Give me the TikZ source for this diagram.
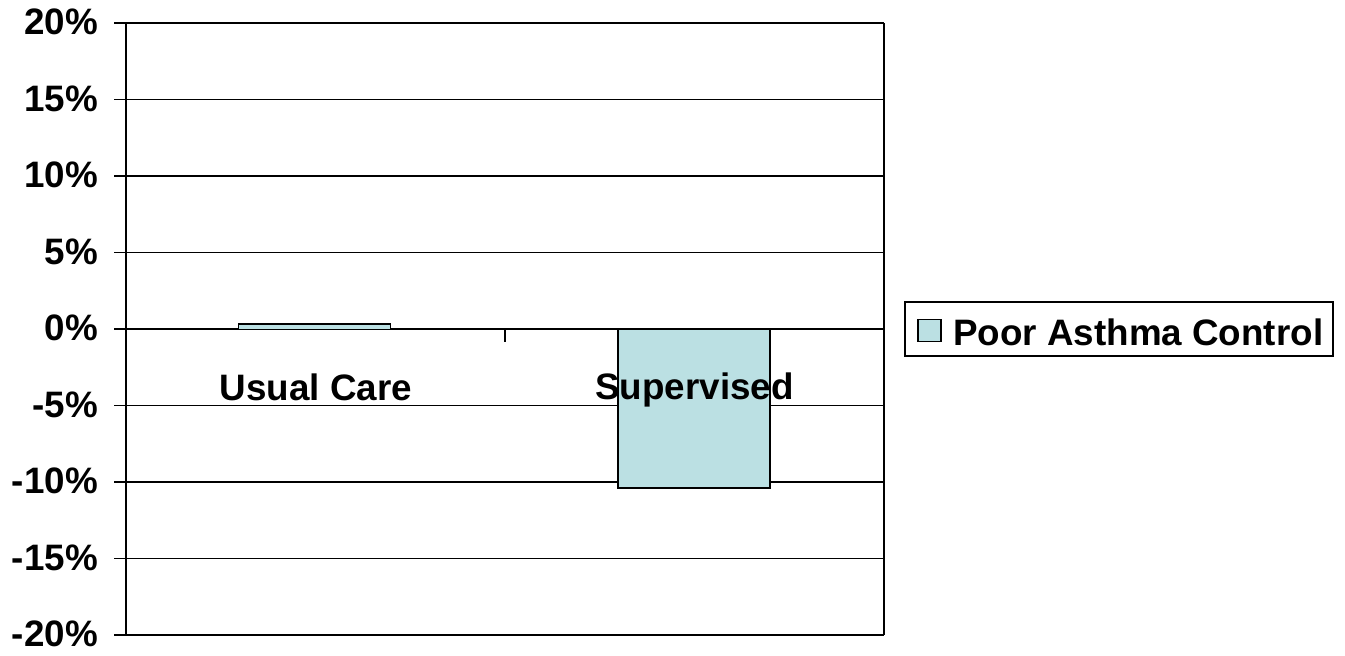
\documentclass[tikz,border=0pt]{standalone}
\usepackage{fontspec}
\setmainfont{Liberation Sans}
\begin{document}
\begin{tikzpicture}[x=1pt,y=-1pt,
  grid/.style={line width=1.9pt,black},
  bar/.style={draw=black,line width=1.9pt,fill=barcol},
  bigtext/.style={font=\fontsize{36.8}{44}\selectfont\bfseries,inner sep=0pt},
  ticklab/.style={bigtext,anchor=base east},
  catlab/.style={bigtext,anchor=base},
]
\definecolor{barcol}{HTML}{BBE0E3}
\useasboundingbox (0,0) rectangle (1345,656);
% grid lines and labels
\foreach \v [count=\i from 0] in {20,15,10,5,0,-5,-10,-15,-20}{
  \pgfmathsetmacro{\yy}{23+76.5*\i}
  \draw[grid] (114,\yy) -- (884,\yy);
  \node[ticklab] (t\i) at (98,\yy+11.5) {\v\%};
}
% axes frame
\draw[grid] (126,23) -- (126,635);
\draw[grid] (884,23) -- (884,635);
% category tick
\coordinate (tk1) at (505,329.5);
\coordinate (tk2) at (505,342);
\draw[grid] (tk1) -- (tk2);
% bars
\draw[bar] (238.5,324) rectangle (390.5,329.5);
\draw[bar] (618,329.5) rectangle (770,488);
% category labels
\node[catlab] (c1) at (316,400) {Usual Care};
\node[catlab] (c2) at (694.5,399) {Supervised};
% legend
\node[draw=black,line width=1.9pt,minimum width=428pt,minimum height=54pt,inner sep=0pt] (leg) at (1119,329) {};
\draw[bar,line width=1.4pt] (918,319.5) rectangle (941,341.5);
\node[bigtext,anchor=base west] (legt) at (953,345) {Poor Asthma Control};
\end{tikzpicture}
\end{document}
